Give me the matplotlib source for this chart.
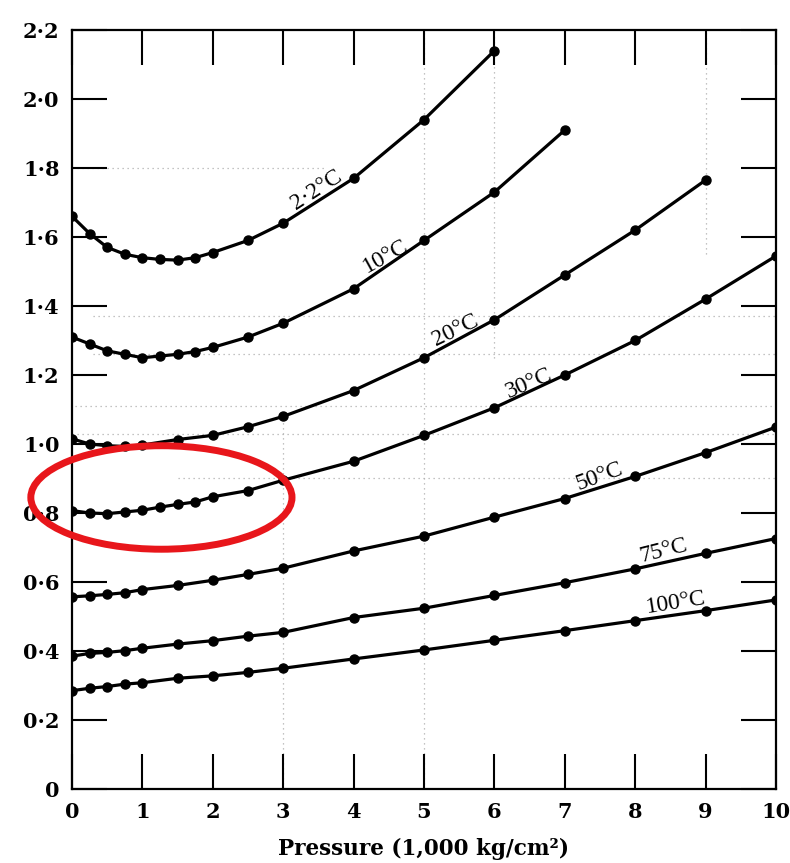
import matplotlib.pyplot as plt
from matplotlib.patches import Ellipse

# pressure in 1,000 kg/cm2, value on the y axis read per isotherm
x_22 = [0, 0.25, 0.5, 0.75, 1, 1.25, 1.5, 1.75, 2, 2.5, 3, 4, 5, 6]
y_22 = [1.66, 1.61, 1.57, 1.55, 1.54, 1.535, 1.533, 1.54, 1.555, 1.59, 1.64, 1.77, 1.94, 2.14]

x_10 = [0, 0.25, 0.5, 0.75, 1, 1.25, 1.5, 1.75, 2, 2.5, 3, 4, 5, 6, 7]
y_10 = [1.31, 1.29, 1.27, 1.26, 1.25, 1.255, 1.26, 1.268, 1.28, 1.31, 1.35, 1.45, 1.59, 1.73, 1.91]

x_20 = [0, 0.25, 0.5, 0.75, 1, 1.5, 2, 2.5, 3, 4, 5, 6, 7, 8, 9]
y_20 = [1.015, 1.0, 0.995, 0.993, 0.997, 1.013, 1.025, 1.05, 1.08, 1.155, 1.25, 1.36, 1.49, 1.62, 1.765]

x_30 = [0, 0.25, 0.5, 0.75, 1, 1.25, 1.5, 1.75, 2, 2.5, 3, 4, 5, 6, 7, 8, 9, 10]
y_30 = [0.807, 0.80, 0.798, 0.803, 0.808, 0.817, 0.825, 0.832, 0.847, 0.865, 0.895, 0.95,
        1.025, 1.105, 1.20, 1.30, 1.42, 1.545]

x_hot = [0, 0.25, 0.5, 0.75, 1, 1.5, 2, 2.5, 3, 4, 5, 6, 7, 8, 9, 10]
y_50 = [0.557, 0.56, 0.564, 0.569, 0.578, 0.59, 0.605, 0.622, 0.64, 0.69, 0.733, 0.788,
        0.842, 0.906, 0.975, 1.049]
y_75 = [0.385, 0.393, 0.396, 0.401, 0.408, 0.42, 0.43, 0.443, 0.454, 0.497, 0.524, 0.561,
        0.598, 0.638, 0.683, 0.726]
y_100 = [0.285, 0.292, 0.297, 0.304, 0.308, 0.321, 0.328, 0.338, 0.35, 0.377, 0.403, 0.431,
         0.459, 0.488, 0.517, 0.548]

curve_labels = ['2·2°C', '10°C', '20°C', '30°C', '50°C', '75°C', '100°C']
label_x = [3.48, 4.45, 5.45, 6.5, 7.5, 8.4, 8.58]
label_y = [1.735, 1.545, 1.33, 1.175, 0.905, 0.69, 0.54]
label_rot = [33, 29, 26, 23, 20, 14, 9]

x_ticks = list(range(11))
y_ticks = [0, 0.2, 0.4, 0.6, 0.8, 1.0, 1.2, 1.4, 1.6, 1.8, 2.0, 2.2]
y_tick_labels = ['0', '0·2', '0·4', '0·6', '0·8', '1·0', '1·2', '1·4', '1·6', '1·8', '2·0', '2·2']

plt.rcParams['font.family'] = ['DejaVu Serif', 'DejaVu Sans']

fig = plt.figure(figsize=(7.9, 8.63), dpi=100)
ax = fig.add_axes([72 / 790, 1 - 789 / 863, 704 / 790, 759 / 863])

# faint dotted guide lines showing through the page
guide = dict(color='#b0b0b0', linestyle=(0, (1, 3)), linewidth=0.9, zorder=1)
ax.plot([3, 3], [0, 1.08], **guide)
ax.plot([5, 5], [0, 2.2], **guide)
ax.plot([6, 6], [1.25, 2.2], **guide)
ax.plot([9, 9], [1.55, 2.2], **guide)
ax.plot([0, 3.6], [1.8, 1.8], **guide)
ax.plot([0.3, 10], [1.37, 1.37], **guide)
ax.plot([0.3, 10], [1.26, 1.26], **guide)
ax.plot([-0.1, 10], [1.11, 1.11], **guide)
ax.plot([0, 10], [1.03, 1.03], **guide)
ax.plot([1.5, 10], [0.9, 0.9], **guide)

style = dict(color='black', linewidth=2.3, marker='o', markersize=6.5, zorder=3)
for xs, ys in [(x_22, y_22), (x_10, y_10), (x_20, y_20), (x_30, y_30),
               (x_hot, y_50), (x_hot, y_75), (x_hot, y_100)]:
    ax.plot(xs, ys, **style)

for txt, lx, ly, rot in zip(curve_labels, label_x, label_y, label_rot):
    ax.text(lx, ly, txt, rotation=rot, rotation_mode='anchor', ha='center', va='center',
            family=['Liberation Serif', 'DejaVu Serif'], fontsize=17, zorder=4)

ax.set_xlim(0, 10)
ax.set_ylim(0, 2.2)
ax.set_xticks(x_ticks)
ax.set_yticks(y_ticks)
ax.set_yticklabels(y_tick_labels)
ax.tick_params(direction='in', length=25, width=1.5, top=True, right=True,
               labeltop=False, labelright=False, labelsize=15, pad=9)
for lbl in ax.get_xticklabels() + ax.get_yticklabels():
    lbl.set_fontweight('bold')
for sp in ax.spines.values():
    sp.set_linewidth(1.6)

ax.set_xlabel('Pressure (1,000 kg/cm²)', fontsize=15.5, fontweight='bold', labelpad=12)

# highlight ring around the low-pressure part of the 30 °C curve
ring = Ellipse((1.27, 0.845), 3.71, 0.30, fill=False, edgecolor='#e8161b',
               linewidth=5, zorder=5, clip_on=False)
ax.add_patch(ring)

fig.savefig('out.png', dpi=100)
